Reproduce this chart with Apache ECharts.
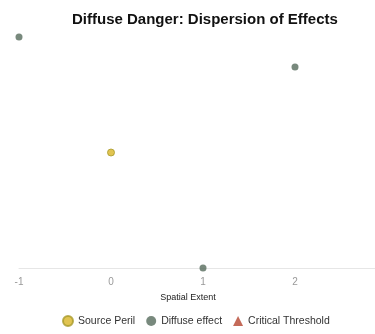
<!DOCTYPE html>
<html>
<head>
<meta charset="utf-8">
<script src="https://cdn.jsdelivr.net/npm/echarts@6/dist/echarts.min.js"></script>
<style>html,body{margin:0;padding:0;background:#fff}#c{width:375px;height:334px}</style>
</head>
<body>
<div id="c"></div>
<script>
var xTicks = [-1, 0, 1, 2, 3];
var sourcePeril = [[0, 5.0]];
var diffuseEffect = [[-1, 10.0], [2, 8.7], [1, 0]];
var criticalThreshold = [];

var chart = echarts.init(document.getElementById('c'));
chart.setOption({
  animation: false,
  title: {
    text: 'Diffuse Danger: Dispersion of Effects',
    left: 67, top: 7,
    textStyle: { fontFamily: 'Liberation Sans, Arial, sans-serif', fontSize: 15, fontWeight: 'bold', color: '#111' }
  },
  legend: {
    left: 62, bottom: 7, padding: 0,
    itemWidth: 10, itemHeight: 10, itemGap: 11,
    textStyle: { fontFamily: 'Liberation Sans, Arial, sans-serif', fontSize: 10.5, color: '#333' },
    data: [
      { name: 'Source Peril', icon: 'circle' },
      { name: 'Diffuse effect', icon: 'circle' },
      { name: 'Critical Threshold', icon: 'triangle' }
    ]
  },
  grid: { left: 19, width: 368, top: 37, bottom: 66, outerBoundsMode: 'none', containLabel: false },
  xAxis: {
    type: 'value', min: xTicks[0], max: xTicks[xTicks.length - 1], interval: 1,
    name: 'Spatial Extent', nameLocation: 'middle', nameGap: 25,
    nameTextStyle: { fontFamily: 'Liberation Sans, Arial, sans-serif', fontSize: 9, color: '#222', padding: [0, 30, 0, 0] },
    axisLine: { lineStyle: { color: '#e6e6e6' } },
    axisTick: { show: false },
    splitLine: { show: false },
    axisLabel: { color: '#999', fontSize: 10, margin: 9, fontFamily: 'Liberation Sans, Arial, sans-serif' }
  },
  yAxis: { type: 'value', min: 0, max: 10, show: false },
  series: [
    { name: 'Source Peril', type: 'scatter', symbolSize: 7, data: sourcePeril,
      itemStyle: { color: '#d9b526', borderColor: '#a89a2a', borderWidth: 1 } },
    { name: 'Diffuse effect', type: 'scatter', symbolSize: 7, data: diffuseEffect,
      itemStyle: { color: '#566b5c' } },
    { name: 'Critical Threshold', type: 'scatter', symbol: 'triangle', symbolSize: 9, data: criticalThreshold,
      itemStyle: { color: '#b5452f' } }
  ]
});
</script>
</body>
</html>
